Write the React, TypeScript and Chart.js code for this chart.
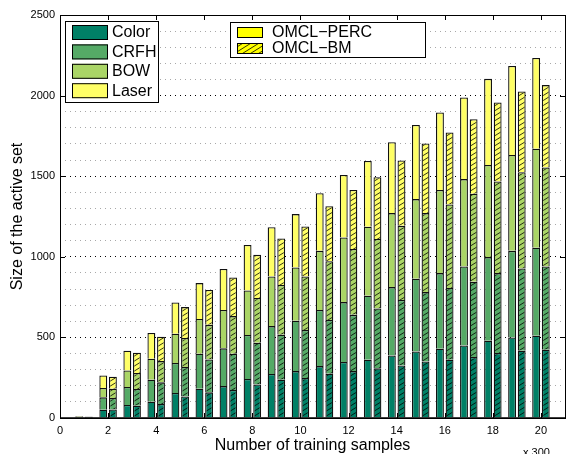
import React, { useEffect, useRef } from 'react';
import { Chart, registerables } from 'chart.js';

Chart.register(...registerables);

// Category slots along the x axis (training samples, in units of 300)
const sampleLabels = ['0', '1', '2', '3', '4', '5', '6', '7', '8', '9', '10', '11', '12', '13', '14', '15', '16', '17', '18', '19', '20', '21'];

// OMCL-PERC: size of the active set per cue, for samples 1..20
const percColor = [3, 51, 81, 101, 155, 182, 198, 242, 273, 291, 322, 347, 361, 388, 413, 430, 450, 479, 500, 510];
const percCrfh = [3, 77, 111, 136, 186, 217, 234, 273, 297, 312, 348, 372, 397, 424, 451, 469, 490, 519, 537, 546];
const percBow = [3, 58, 103, 131, 182, 215, 238, 276, 308, 331, 367, 401, 428, 459, 494, 515, 542, 572, 595, 614];
const percLaser = [3, 78, 122, 159, 194, 223, 254, 282, 306, 331, 358, 388, 409, 440, 460, 481, 506, 534, 552, 564];

// OMCL-BM: size of the active set per cue, for samples 1..20
const bmColor = [2, 53, 76, 87, 134, 159, 174, 208, 237, 248, 275, 291, 308, 326, 351, 361, 378, 403, 417, 423];
const bmCrfh = [3, 71, 104, 134, 182, 204, 225, 259, 279, 298, 333, 349, 372, 406, 430, 445, 467, 496, 511, 517];
const bmBow = [2, 58, 99, 132, 180, 215, 233, 277, 309, 332, 365, 408, 430, 460, 490, 518, 546, 568, 597, 614];
const bmLaser = [3, 74, 126, 151, 192, 216, 240, 268, 289, 310, 341, 366, 384, 405, 432, 447, 463, 490, 500, 511];

const cueNames = ['Color', 'CRFH', 'BOW', 'Laser'];
const methodNames = ['OMCL\u2212PERC', 'OMCL\u2212BM'];
const yMajorTicks = [0, 500, 1000, 1500, 2000, 2500];
const xTickEvery = 2;
const xUnitNote = 'x 300';
const xTitle = 'Number of training samples';
const yTitle = 'Size of the active set';

// "summer" colour ramp, one shade per cue
const cueFills = ['rgb(0,128,102)', 'rgb(85,170,102)', 'rgb(170,213,102)', 'rgb(255,255,102)'];
const methodSwatch = 'rgb(255,255,0)';
const FONT = "'Liberation Sans', Arial, Helvetica, sans-serif";

function makeHatch(fill: string): CanvasPattern | string {
  const c = document.createElement('canvas');
  const w = 8;
  const h = 5;
  c.width = w;
  c.height = h;
  const g = c.getContext('2d');
  if (!g) return fill;
  g.fillStyle = fill;
  g.fillRect(0, 0, w, h);
  g.strokeStyle = '#000';
  g.lineWidth = 0.8;
  g.beginPath();
  for (let k = 0; k <= 2; k++) {
    g.moveTo(-w, k * h + h);
    g.lineTo(2 * w, k * h - 2 * h);
  }
  g.stroke();
  const p = g.createPattern(c, 'repeat');
  return p || fill;
}

const pad = (arr: number[]) => [null, ...arr, null];

function drawSwatch(ctx: CanvasRenderingContext2D, x: number, y: number, w: number, h: number, fill: string | CanvasPattern) {
  ctx.fillStyle = fill as any;
  ctx.fillRect(x, y, w, h);
  ctx.strokeStyle = '#000';
  ctx.lineWidth = 1;
  ctx.strokeRect(x + 0.5, y + 0.5, w - 1, h - 1);
}

export default function App() {
  const canvasRef = useRef<HTMLCanvasElement | null>(null);

  useEffect(() => {
    const canvas = canvasRef.current;
    if (!canvas) return;

    const percSeries = [percColor, percCrfh, percBow, percLaser];
    const bmSeries = [bmColor, bmCrfh, bmBow, bmLaser];
    const hatches = cueFills.map((f) => makeHatch(f));
    const swatchHatch = makeHatch(methodSwatch);

    const datasets: any[] = [
      ...cueNames.map((name, k) => ({
        label: `${name} (${methodNames[0]})`,
        data: pad(percSeries[k]),
        backgroundColor: cueFills[k],
        borderColor: '#111',
        borderWidth: 1.3,
        stack: 'perc',
      })),
      ...cueNames.map((name, k) => ({
        label: `${name} (${methodNames[1]})`,
        data: pad(bmSeries[k]),
        backgroundColor: hatches[k],
        borderColor: '#111',
        borderWidth: 1.3,
        stack: 'bm',
      })),
    ];

    const framePlugin = {
      id: 'matlabFrame',
      afterDatasetsDraw(chart: any) {
        const { ctx, chartArea: a, scales } = chart;
        ctx.save();
        ctx.strokeStyle = '#000';
        ctx.lineWidth = 1;
        ctx.beginPath();
        const tl = 5;
        for (let i = 0; i < sampleLabels.length - 1; i += xTickEvery) {
          const x = Math.round(scales.x.getPixelForValue(i)) + 0.5;
          ctx.moveTo(x, a.bottom);
          ctx.lineTo(x, a.bottom - tl);
          ctx.moveTo(x, a.top);
          ctx.lineTo(x, a.top + tl);
        }
        for (const v of yMajorTicks) {
          const y = Math.round(scales.y.getPixelForValue(v)) + 0.5;
          ctx.moveTo(a.left, y);
          ctx.lineTo(a.left + tl, y);
          ctx.moveTo(a.right, y);
          ctx.lineTo(a.right - tl, y);
        }
        ctx.stroke();
        ctx.strokeRect(a.left + 0.5, a.top + 0.5, a.right - a.left, a.bottom - a.top);
        ctx.beginPath();
        ctx.lineWidth = 1.5;
        ctx.moveTo(a.left, a.bottom);
        ctx.lineTo(a.right, a.bottom);
        ctx.stroke();
        ctx.restore();
      },
      afterDraw(chart: any) {
        const { ctx, chartArea: a } = chart;
        ctx.save();
        ctx.fillStyle = '#000';

        // axis titles
        ctx.font = `16px ${FONT}`;
        ctx.textAlign = 'center';
        ctx.textBaseline = 'alphabetic';
        ctx.fillText(xTitle, (a.left + a.right) / 2, 450);
        ctx.save();
        ctx.translate(18, (a.top + a.bottom) / 2);
        ctx.rotate(-Math.PI / 2);
        ctx.textBaseline = 'middle';
        ctx.fillText(yTitle, 0, 0);
        ctx.restore();

        ctx.font = `11px ${FONT}`;
        ctx.textAlign = 'left';
        ctx.fillText(xUnitNote, 523, 456);

        // cue legend
        const l1x = a.left + 5;
        const l1y = a.top + 6;
        ctx.fillStyle = '#fff';
        ctx.fillRect(l1x, l1y, 93, 81);
        ctx.strokeStyle = '#000';
        ctx.lineWidth = 1;
        ctx.strokeRect(l1x + 0.5, l1y + 0.5, 93, 81);
        ctx.font = `16px ${FONT}`;
        ctx.textBaseline = 'middle';
        cueNames.forEach((name, k) => {
          const top = l1y + 4 + k * 19.4;
          drawSwatch(ctx, l1x + 7, top, 36, 15, cueFills[k]);
          ctx.fillStyle = '#000';
          ctx.fillText(name, l1x + 47, top + 8);
        });

        // method legend
        const l2x = 230;
        const l2y = a.top + 7;
        ctx.fillStyle = '#fff';
        ctx.fillRect(l2x, l2y, 195, 35);
        ctx.strokeStyle = '#000';
        ctx.strokeRect(l2x + 0.5, l2y + 0.5, 195, 35);
        methodNames.forEach((name, k) => {
          const top = l2y + 5 + k * 16;
          drawSwatch(ctx, l2x + 7, top, 26, 11, k === 0 ? methodSwatch : (swatchHatch as any));
          ctx.fillStyle = '#000';
          ctx.fillText(name, l2x + 42, top + 6);
        });
        ctx.restore();
      },
    };

    const chart = new Chart(canvas, {
      type: 'bar',
      data: { labels: sampleLabels, datasets },
      options: {
        animation: false,
        responsive: false,
        devicePixelRatio: 1,
        layout: { padding: { top: 15, right: 0, bottom: 0, left: 0 } },
        plugins: { legend: { display: false }, tooltip: { enabled: false } },
        datasets: { bar: { categoryPercentage: 0.8, barPercentage: 0.82 } },
        scales: {
          x: {
            type: 'category',
            offset: false,
            grid: { display: false, offset: false, drawTicks: false },
            border: { display: false },
            ticks: {
              autoSkip: false,
              maxRotation: 0,
              minRotation: 0,
              padding: 6,
              color: '#000',
              font: { size: 11, family: FONT },
              callback: (_v: any, index: number) =>
                index % xTickEvery === 0 && index < sampleLabels.length - 1 ? sampleLabels[index] : '',
            },
            afterFit: (s: any) => {
              s.height = 36;
            },
          },
          y: {
            stacked: true,
            min: 0,
            max: 2500,
            grid: {
              drawTicks: false,
              lineWidth: 1,
              color: (c: any) => (c.tick && c.tick.value % 500 === 0 ? '#000' : '#a8a8a8'),
            },
            border: { display: false, dash: [1, 4] },
            ticks: {
              stepSize: 100,
              autoSkip: false,
              padding: 5,
              color: '#000',
              font: { size: 11, family: FONT },
              callback: (v: any) => (Number(v) % 500 === 0 ? String(v) : ''),
            },
            afterFit: (s: any) => {
              s.width = 60;
            },
          },
        },
      } as any,
      plugins: [framePlugin],
    });

    return () => {
      chart.destroy();
    };
  }, []);

  return (
    <div style={{ position: 'fixed', left: 0, top: 0, width: 571, height: 454, overflow: 'hidden', background: '#fff' }}>
      <canvas ref={canvasRef} width={571} height={454} style={{ width: 571, height: 454, display: 'block' }} />
    </div>
  );
}
